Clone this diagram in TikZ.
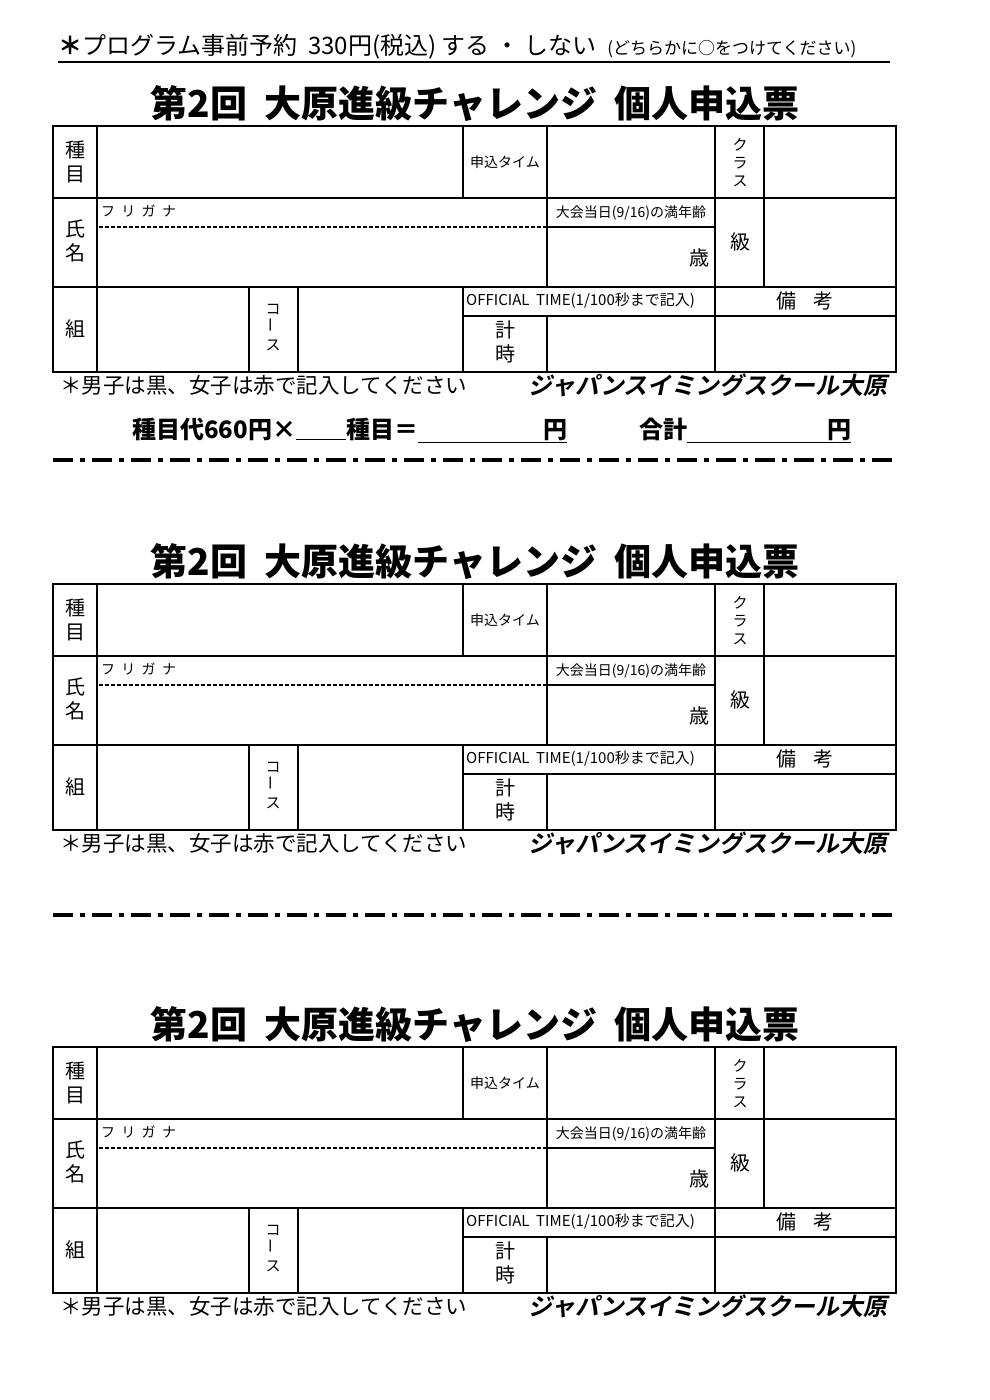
\documentclass[tikz,border=0pt]{standalone}
\usepackage{fontspec}
\setmainfont{Noto Sans CJK JP}
\newfontfamily\slantfont[FakeSlant=0.2]{Noto Sans CJK JP Bold}
\usetikzlibrary{positioning}

\tikzset{
	frame/.style={line width=2.2pt},
	cell/.style={line width=1.6pt},
	cut/.style={line width=3.5pt, dash pattern=on 20pt off 7pt on 5pt off 7pt},
	lbl/.style={inner sep=0pt, font=\fontsize{20}{22}\selectfont},
	small/.style={inner sep=0pt, font=\fontsize{14}{15}\selectfont},
	vert/.style={inner sep=0pt, align=center, font=\fontsize{20}{24}\selectfont},
}

\begin{document}
\begin{tikzpicture}[x=1pt,y=-1pt]
	\useasboundingbox (0,0) rectangle (990,1400);
	
	% header
	\node [inner sep=0pt, anchor=west] (head) at (58,47)
		{\fontsize{24}{26}\selectfont \textbf{＊}プログラム事前予約\ \ 330円(税込)\ する\ ・\ しない\ \ {\fontsize{17}{18}\selectfont (どちらかに○をつけてください)}};
	\draw [line width=1.4pt] (58,62) -- (890,62);
	
	\foreach \dy/\n in {0/a,458/b,921/c} {
		\begin{scope}[yshift=-\dy]
		\node [inner sep=0pt, font=\fontsize{37}{38}\bfseries\selectfont] (title\n) at (475,104) {第2回\ \ 大原進級チャレンジ\ \ 個人申込票};
		
		% table
		\draw [frame] (53,126) rectangle (896,372);
		\draw [cell] (53,198) -- (896,198);
		\draw [cell] (53,287) -- (896,287);
		\draw [cell] (97,126) -- (97,372);
		\draw [cell] (463,126) -- (463,198) (547,126) -- (547,287) (715,126) -- (715,372) (764,126) -- (764,287);
		\draw [cell] (547,227) -- (715,227);
		\draw [line width=1.4pt, dashed, dash pattern=on 4pt off 2pt] (99,227) -- (547,227);
		\draw [cell] (249,287) -- (249,372) (298,287) -- (298,372) (463,287) -- (463,372);
		\draw [cell] (463,316) -- (896,316) (547,316) -- (547,372);
		
		% labels
		\node [vert] (kind\n) at (75,162) {種\\目};
		\node [small] (time\n) at (505,162) {申込タイム};
		\node [vert, font=\fontsize{15}{18}\selectfont] (class\n) at (740,163) {ク\\ラ\\ス};
		\node [small, anchor=west] (kana\n) at (101,211) {フ\ \ リ\ \ ガ\ \ ナ};
		\node [small] (age\n) at (631,213) {大会当日(9/16)の満年齢};
		\node [lbl, anchor=east] (sai\n) at (710,258) {歳};
		\node [lbl] (kyu\n) at (740,242) {級};
		\node [vert] (name\n) at (75,241) {氏\\名};
		\node [lbl] (kumi\n) at (75,329) {組};
		\node [vert, font=\fontsize{15}{18}\selectfont] (course\n) at (273,328) {コ\\\rotatebox{90}{ー}\\ス};
		\node [small, anchor=west, font=\fontsize{15}{16}\selectfont] (off\n) at (466,301) {OFFICIAL\ \ TIME(1/100秒まで記入)};
		\node [lbl] (biko\n) at (805,301) {備\ \ \ \ 考};
		\node [vert] (keiji\n) at (505,342) {計\\時};
		
		% notes
		\node [lbl, anchor=west, font=\fontsize{21.5}{23}\selectfont] (note\n) at (60,385) {＊男子は黒、女子は赤で記入してください};
		\node [lbl, anchor=east, font=\fontsize{24}{26}\slantfont] (school\n) at (888,385) {ジャパンスイミングスクール大原};
		\end{scope}
	}
	
	% cost line
	\node [inner sep=0pt, anchor=west, font=\fontsize{24}{26}\bfseries\selectfont] (cost) at (132,430) {種目代660円×\underline{\hspace{50pt}}種目＝\underline{\hspace{125pt}円}\hspace{72pt}合計\underline{\hspace{140pt}円}};
	
	% cut lines
	\draw [cut] (53,460) -- (896,460);
	\draw [cut] (53,915) -- (896,915);
\end{tikzpicture}
\end{document}
